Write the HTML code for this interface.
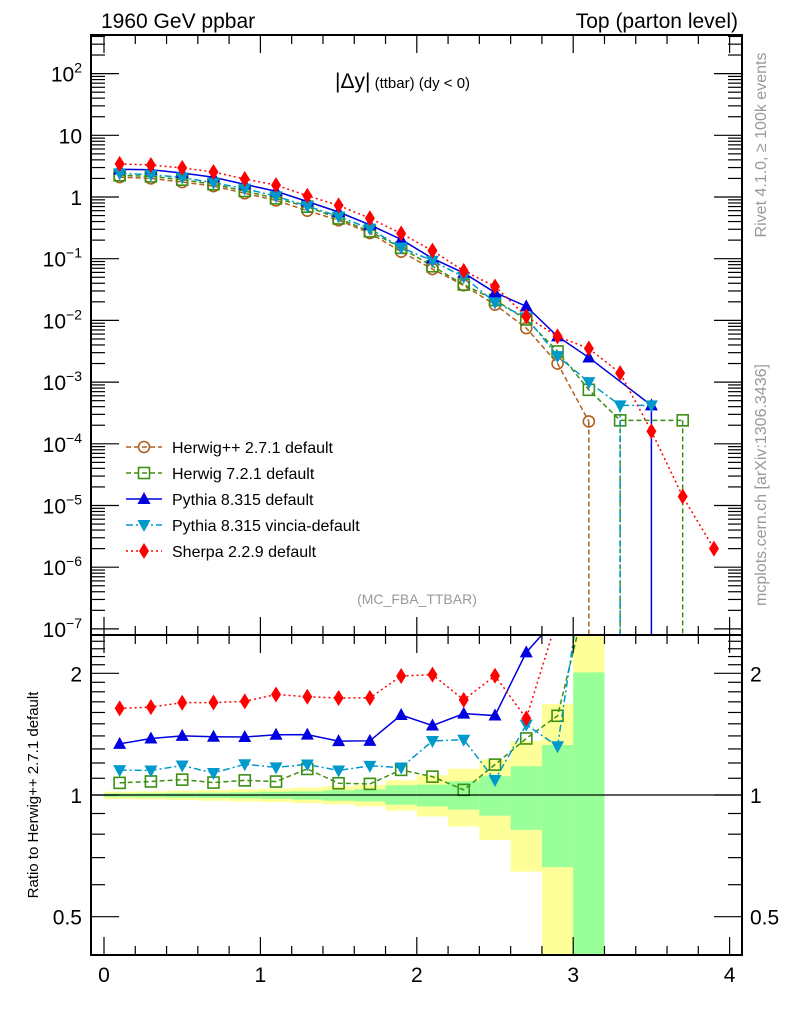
<!DOCTYPE html>
<html><head><meta charset="utf-8"><style>
body{margin:0;background:#fff}
svg text{font-family:"Liberation Sans",sans-serif}
</style></head><body>
<svg id="c" width="786" height="1024" viewBox="0 0 786 1024" xmlns="http://www.w3.org/2000/svg">
<defs>
<clipPath id="cm"><rect x="91" y="35" width="651" height="600"/></clipPath>
<clipPath id="cr"><rect x="91" y="635" width="651" height="320"/></clipPath>
</defs>
<g id="bands" clip-path="url(#cr)"></g>
<g id="marks"></g>
<g id="axes"></g>
<text x="101" y="28" font-size="21">1960 GeV ppbar</text>
<text x="738" y="28" font-size="21" text-anchor="end">Top (parton level)</text>
<text x="335" y="88" font-size="21">|Δy|<tspan font-size="15"> (ttbar) (dy &lt; 0)</tspan></text>
<text x="417" y="604" font-size="14" fill="#999" text-anchor="middle">(MC_FBA_TTBAR)</text>
<text transform="translate(766,145) rotate(-90)" font-size="16" fill="#999" text-anchor="middle">Rivet 4.1.0, ≥ 100k events</text>
<text transform="translate(766,485) rotate(-90)" font-size="16" fill="#999" text-anchor="middle">mcplots.cern.ch [arXiv:1306.3436]</text>
<text transform="translate(38,795) rotate(-90)" font-size="15" text-anchor="middle">Ratio to Herwig++ 2.7.1 default</text>
<g id="legend"></g>
</svg>
<script>
const centers=[0.1,0.3,0.5,0.7,0.9,1.1,1.3,1.5,1.7,1.9,2.1,2.3,2.5,2.7,2.9,3.1,3.3,3.5,3.7,3.9];
const herwigpp=[2.1,2.0,1.75,1.5,1.15,0.88,0.6,0.42,0.26,0.13,0.068,0.037,0.018,0.0075,0.002,0.00023,null,null,null,null];
const herwig7=[2.25,2.16,1.91,1.61,1.25,0.95,0.696,0.449,0.277,0.15,0.0755,0.0381,0.0214,0.01035,0.00314,0.00075,0.00024,null,0.00024,null];
const pythia=[2.81,2.76,2.45,2.09,1.60,1.24,0.846,0.571,0.354,0.205,0.101,0.0588,0.0283,0.0169,0.0055,0.0025,null,0.00042,null,null];
const vincia=[2.42,2.30,2.07,1.70,1.37,1.03,0.714,0.483,0.307,0.152,0.0925,0.0507,0.0196,0.0112,0.00264,0.001,0.00042,0.00042,null,null];
const sherpa=[3.44,3.30,2.96,2.54,1.96,1.56,1.05,0.73,0.452,0.256,0.135,0.0636,0.0355,0.0116,0.0055,0.0035,0.0014,0.00016,0.000014,0.000002];
const binEdges=[0,0.2,0.4,0.6,0.8,1.0,1.2,1.4,1.6,1.8,2.0,2.2,2.4,2.6,2.8,3.0,3.2];
const yellowUp=[1.019,1.021,1.025,1.029,1.033,1.037,1.043,1.051,1.059,1.088,1.119,1.161,1.224,1.36,1.678,3.0];
const yellowLo=[0.977,0.975,0.972,0.968,0.964,0.961,0.955,0.948,0.937,0.915,0.885,0.836,0.774,0.646,0.3,0.3];
const greenUp=[1.008,1.010,1.012,1.013,1.015,1.019,1.021,1.027,1.033,1.057,1.061,1.081,1.113,1.178,1.33,2.01];
const greenLo=[0.989,0.987,0.985,0.983,0.981,0.979,0.974,0.968,0.964,0.946,0.937,0.920,0.889,0.820,0.663,0.3];
const xTicks=[0,1,2,3,4];
const yDecades=[-7,-6,-5,-4,-3,-2,-1,0,1,2];
const ratioTicks=[0.5,1,2];

const NS='http://www.w3.org/2000/svg';
const X=v=>104+156.4*v;
const Y=v=>197-61.7*Math.log10(v);
const R=v=>795-121.7*Math.log2(v);
const L=91,RT=742,T=35,M=635,B=955;
function mk(tag,attrs,parent){const e=document.createElementNS(NS,tag);for(const k in attrs)e.setAttribute(k,attrs[k]);parent.appendChild(e);return e;}
const bands=document.getElementById('bands'),marks=document.getElementById('marks'),axes=document.getElementById('axes'),legend=document.getElementById('legend');

for(let i=0;i<yellowUp.length;i++){
  const x0=X(binEdges[i]),x1=X(binEdges[i+1]);
  const y1=mk('rect',{x:x0,y:R(yellowUp[i]),width:x1-x0,height:R(yellowLo[i])-R(yellowUp[i]),fill:'#ffff99'},bands);
  
  
  const g1=mk('rect',{x:x0,y:R(greenUp[i]),width:x1-x0,height:R(greenLo[i])-R(greenUp[i]),fill:'#99ff99'},bands);
  
  
}

const series=[
 {name:'herwigpp',label:'Herwig++ 2.7.1 default',data:herwigpp,color:'#b05f1e',dash:'5,3',marker:'circle',drop:3.1},
 {name:'herwig7',label:'Herwig 7.2.1 default',data:herwig7,color:'#3d8f12',dash:'5,3',marker:'square',drop:[3.3,3.7]},
 {name:'pythia',label:'Pythia 8.315 default',data:pythia,color:'#0000e0',dash:'',marker:'tri-up',drop:3.5},
 {name:'vincia',label:'Pythia 8.315 vincia-default',data:vincia,color:'#0099cc',dash:'7,3,2,3',marker:'tri-down',drop:3.3},
 {name:'sherpa',label:'Sherpa 2.2.9 default',data:sherpa,color:'#ff0000',dash:'2,3',marker:'diamond',drop:null}
];
function marker(s,x,y,parent){
  let e;const c=s.color;
  if(s.marker==='circle')e=mk('circle',{cx:x,cy:y,r:5.5,fill:'none',stroke:c,'stroke-width':1.6},parent);
  else if(s.marker==='square')e=mk('rect',{x:x-5.5,y:y-5.5,width:11,height:11,fill:'none',stroke:c,'stroke-width':1.6},parent);
  else if(s.marker==='tri-up')e=mk('polygon',{points:`${x-6.5},${y+5} ${x+6.5},${y+5} ${x},${y-7}`,fill:c},parent);
  else if(s.marker==='tri-down')e=mk('polygon',{points:`${x-6.5},${y-5} ${x+6.5},${y-5} ${x},${y+7}`,fill:c},parent);
  else e=mk('polygon',{points:`${x},${y-8} ${x+5},${y} ${x},${y+8} ${x-5},${y}`,fill:c},parent);
  
  
}
series.forEach(s=>{
  const gm=mk('g',{'clip-path':'url(#cm)'},marks);
  
  
  const pts=[];s.data.forEach((v,i)=>{if(v)pts.push([X(centers[i]),Y(v)]);});
  const pl=mk('polyline',{points:pts.map(p=>p.join(',')).join(' '),fill:'none',stroke:s.color,'stroke-width':1.5,'stroke-dasharray':s.dash},gm);
  
  
  const drops=s.drop==null?[]:[].concat(s.drop);
  drops.forEach(d=>{const i=centers.indexOf(d);const v=s.data[i];if(!v)return;
    const dl=mk('line',{x1:X(d),x2:X(d),y1:Y(v),y2:M,stroke:s.color,'stroke-width':1.5,'stroke-dasharray':s.dash},gm);
    
    });
  pts.forEach(p=>marker(s,p[0],p[1],gm));
  const gr=mk('g',{'clip-path':'url(#cr)'},marks);
  
  
  const rp=[];s.data.forEach((v,i)=>{if(v&&herwigpp[i])rp.push([X(centers[i]),R(v/herwigpp[i])]);});
  if(s.name!=='herwigpp'){
    const rl=mk('polyline',{points:rp.map(p=>p.join(',')).join(' '),fill:'none',stroke:s.color,'stroke-width':1.5,'stroke-dasharray':s.dash},gr);
    
    
    rp.forEach(p=>marker(s,p[0],p[1],gr));
  }
});
const ul=mk('line',{x1:L,x2:RT,y1:R(1),y2:R(1),stroke:'#000','stroke-width':1.2},axes);


[[T,M],[M,B]].forEach((p,k)=>{const f=mk('rect',{x:L,y:p[0],width:RT-L,height:p[1]-p[0],fill:'none',stroke:'#000','stroke-width':2},axes);
  
  });
for(let t=0;t<=4.001;t+=0.2){const x=X(t);const major=Math.abs(t-Math.round(t))<1e-6;const h=major?18:9;
  [[B,-1],[M,-1],[T,1],[M,1]].forEach(q=>{const tk=mk('line',{x1:x,x2:x,y1:q[0],y2:q[0]+q[1]*h,stroke:'#000','stroke-width':1.2},axes);
    
    });}
xTicks.forEach(t=>{const tx=mk('text',{x:X(t),y:982,'font-size':21,'text-anchor':'middle'},axes);tx.textContent=t;
  
  });
yDecades.forEach(d=>{
  for(let m=1;m<10;m++){const v=m*Math.pow(10,d);const y=Y(v);if(y<T||y>M)continue;const h=m===1?28:14;
    [[L,1],[RT,-1]].forEach(q=>{const tk=mk('line',{x1:q[0],x2:q[0]+q[1]*h,y1:y,y2:y,stroke:'#000','stroke-width':1.2},axes);
      
      });}
  const y=Y(Math.pow(10,d));
  const tx=mk('text',{x:82,y:y+8,'font-size':21,'text-anchor':'end'},axes);
  
  
  if(d===0)tx.textContent='1';else if(d===1)tx.textContent='10';
  else{tx.textContent='10';const sp=document.createElementNS(NS,'tspan');sp.setAttribute('dy','-9');sp.setAttribute('font-size','14');sp.textContent=d===2?'2':'−'+(-d);tx.appendChild(sp);}
});
for(let v=0.4;v<=2.5;v=Math.round((v+0.1)*10)/10){const y=R(v);if(y<M||y>B)continue;const major=ratioTicks.includes(v);const h=major?28:14;
  [[L,1],[RT,-1]].forEach(q=>{const tk=mk('line',{x1:q[0],x2:q[0]+q[1]*h,y1:y,y2:y,stroke:'#000','stroke-width':1.2},axes);
    
    });}
ratioTicks.forEach(v=>{[[82,'end'],[750,'start']].forEach(q=>{const tx=mk('text',{x:q[0],y:R(v)+8,'font-size':21,'text-anchor':q[1]},axes);tx.textContent=v;
  
  });});
series.forEach((s,i)=>{const y=447+i*26;
  const g=mk('g',{},legend);
  
  
  const ln=mk('line',{x1:126,x2:162,y1:y,y2:y,stroke:s.color,'stroke-width':1.5,'stroke-dasharray':s.dash},g);
  
  
  marker(s,144,y,g);
  const tx=mk('text',{x:172,y:y+6,'font-size':16},g);tx.textContent=s.label;
  
  
});
</script>
</body></html>
